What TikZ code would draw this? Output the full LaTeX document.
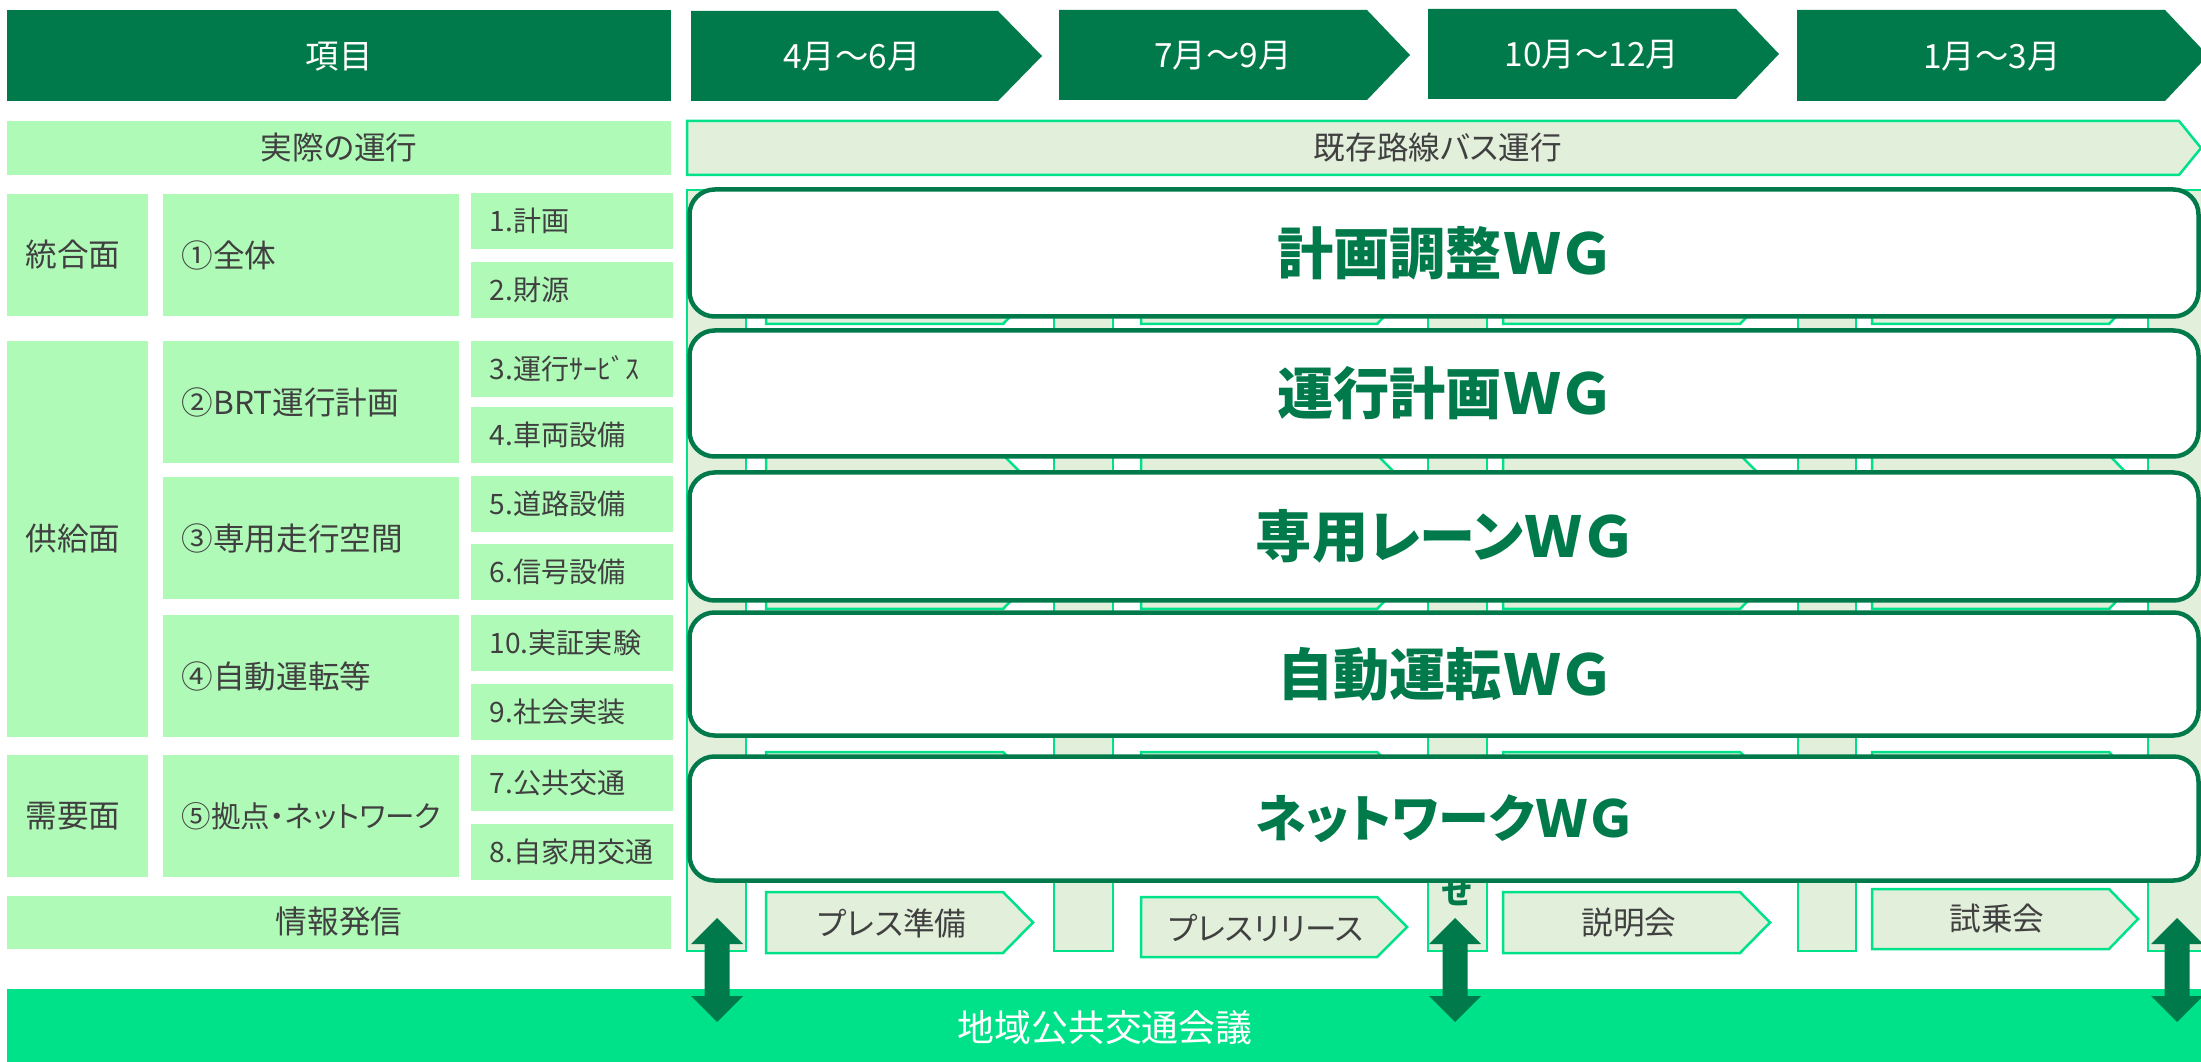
\documentclass[tikz,border=0pt]{standalone}
\usepackage{fontspec}
\setmainfont{Noto Sans CJK JP}[RawFeature=+palt]
\definecolor{darkgreen}{RGB}{0,122,74}
\definecolor{brightgreen}{RGB}{0,226,138}
\definecolor{itemgreen}{RGB}{176,250,184}
\definecolor{palegreen}{RGB}{226,239,218}
\definecolor{textgray}{RGB}{64,64,64}
\newcommand{\chevron}[6]{\path[#1] (#2,#3) -- (#4,#3) -- (#5,{(#3+#6)/2}) -- (#4,#6) -- (#2,#6) -- cycle;}
\tikzset{
  head/.style={fill=darkgreen},
  headtext/.style={text=white, font=\fontsize{9.5}{11}\selectfont},
  item/.style={fill=itemgreen},
  lbl/.style={text=textgray, inner sep=0pt, font=\fontsize{9}{11}\selectfont},
  sublbl/.style={lbl, anchor=west, font=\fontsize{8}{10}\selectfont},
  pale/.style={fill=palegreen, draw=brightgreen, line width=0.25mm},
  wgbox/.style={draw=darkgreen, line width=0.45mm, fill=white, rounded corners=2.5mm,
    inner sep=0pt, minimum width=150.9mm, text=darkgreen, font=\bfseries\fontsize{16}{18}\selectfont},
}
\begin{document}
\begin{tikzpicture}[x=0.1mm, y=-0.1mm]
    \useasboundingbox (0,0) rectangle (2201,1062);
    % header row
    \fill[head] (7,10) rectangle (671,101);
    \node[headtext] (item) at (339,57) {項目};
    \chevron{head}{691}{11}{998}{1042}{101}
    \node[headtext] (q1) at (852,57) {4月～6月};
    \chevron{head}{1059}{10}{1367}{1410}{100}
    \node[headtext] (q2) at (1223,56) {7月～9月};
    \chevron{head}{1428}{9}{1736}{1779}{99}
    \node[headtext] (q3) at (1592,55) {10月～12月};
    \chevron{head}{1797}{10}{2165}{2208}{101}
    \node[headtext] (q4) at (1992,57) {1月～3月};
    % actual operation
    \fill[item] (7,121) rectangle (671,175);
    \node[lbl] (actual) at (339,148) {実際の運行};
    \chevron{pale}{687}{121}{2179}{2201}{175}
    \node[lbl] (busrun) at (1438,148) {既存路線バス運行};
    % left table
    \fill[item] (7,194) rectangle (148,316);
    \fill[item] (163,194) rectangle (459,316);
    \fill[item] (471,193) rectangle (673,249);
    \fill[item] (471,262) rectangle (673,318);
    \fill[item] (7,341) rectangle (148,737);
    \fill[item] (163,341) rectangle (459,463);
    \fill[item] (471,341) rectangle (673,397);
    \fill[item] (471,407) rectangle (673,463);
    \fill[item] (163,477) rectangle (459,599);
    \fill[item] (471,476) rectangle (673,532);
    \fill[item] (471,544) rectangle (673,600);
    \fill[item] (163,615) rectangle (459,737);
    \fill[item] (471,615) rectangle (673,671);
    \fill[item] (471,684) rectangle (673,740);
    \fill[item] (7,755) rectangle (148,877);
    \fill[item] (163,755) rectangle (459,877);
    \fill[item] (471,755) rectangle (673,811);
    \fill[item] (471,824) rectangle (673,880);
    \fill[item] (7,896) rectangle (671,949);
    \node[lbl, anchor=west] (integ) at (25,255) {統合面};
    \node[lbl, anchor=west] (supply) at (25,539) {供給面};
    \node[lbl, anchor=west] (demand) at (25,816) {需要面};
    \node[lbl, anchor=west] (whole) at (181,255) {①全体};
    \node[lbl, anchor=west] (brt) at (181,402) {②BRT運行計画};
    \node[lbl, anchor=west] (space) at (181,538) {③専用走行空間};
    \node[lbl, anchor=west] (autodrive) at (181,676) {④自動運転等};
    \node[lbl, anchor=west, font=\fontsize{8.4}{10}\selectfont] (hub) at (181,816) {⑤拠点・ネットワーク};
    \node[sublbl] (s1) at (489,221) {1.計画};
    \node[sublbl] (s2) at (489,290) {2.財源};
    \node[sublbl] (s3) at (489,369) {3.運行ｻｰﾋﾞｽ};
    \node[sublbl] (s4) at (489,435) {4.車両設備};
    \node[sublbl] (s5) at (489,504) {5.道路設備};
    \node[sublbl] (s6) at (489,572) {6.信号設備};
    \node[sublbl] (s10) at (489,643) {10.実証実験};
    \node[sublbl] (s9) at (489,712) {9.社会実装};
    \node[sublbl] (s7) at (489,783) {7.公共交通};
    \node[sublbl] (s8) at (489,852) {8.自家用交通};
    \node[lbl] (info) at (339,922) {情報発信};
    % columns and chevrons under the WG boxes
    \foreach \xa/\xb in {687/746, 1054/1113, 1428/1487, 1798/1856, 2148/2215}
        \filldraw[pale] (\xa,190) rectangle (\xb,951);
    \foreach \ya/\yb in {262/324, 455/515, 548/609, 752/812}{
        \chevron{pale}{766}{\ya}{1003}{1033}{\yb}
        \chevron{pale}{1141}{\ya}{1377}{1407}{\yb}
        \chevron{pale}{1503}{\ya}{1740}{1770}{\yb}
        \chevron{pale}{1872}{\ya}{2109}{2138}{\yb}
    }
    \node[text=darkgreen, inner sep=0pt, font=\bfseries\fontsize{9}{9}\selectfont] (colmark) at (1457,893) {せ};
    % information row
    \chevron{pale}{766}{892}{1003}{1033}{953}
    \node[lbl] (pressprep) at (892,923) {プレス準備};
    \chevron{pale}{1141}{897}{1377}{1407}{957}
    \node[lbl] (pressrel) at (1266,928) {プレスリリース};
    \chevron{pale}{1503}{892}{1740}{1770}{953}
    \node[lbl] (briefing) at (1629,923) {説明会};
    \chevron{pale}{1872}{889}{2109}{2138}{949}
    \node[lbl] (trialride) at (1997,919) {試乗会};
    % council
    \fill[brightgreen] (7,989) rectangle (2215,1070);
    \node[text=white, font=\fontsize{10.5}{12}\selectfont] (council) at (1105,1028) {地域公共交通会議};
    \foreach \c in {717,1455,2177}
        \fill[darkgreen] (\c,918) -- ++(26,26) -- ++(-13.5,0) -- ++(0,52) -- ++(13.5,0) -- (\c,1022)
            -- ++(-26,-26) -- ++(13.5,0) -- ++(0,-52) -- ++(-13.5,0) -- cycle;
    % working groups
    \node[wgbox, minimum height=12.7mm] (wgplan) at (1444,253) {計画調整ＷＧ};
    \node[wgbox, minimum height=12.6mm] (wgops) at (1444,393.5) {運行計画ＷＧ};
    \node[wgbox, minimum height=12.8mm] (wglane) at (1444,536.5) {専用レーンＷＧ};
    \node[wgbox, minimum height=12.3mm] (wgauto) at (1444,674) {自動運転ＷＧ};
    \node[wgbox, minimum height=12.4mm, font=\bfseries\fontsize{14.5}{18}\selectfont] (wgnet) at (1444,818.5) {ネットワークＷＧ};
\end{tikzpicture}
\end{document}
